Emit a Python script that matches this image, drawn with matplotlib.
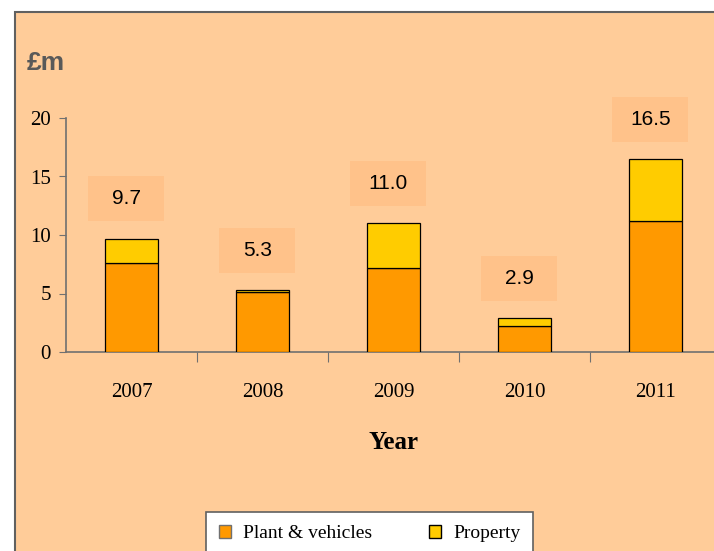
import matplotlib.pyplot as plt
from matplotlib.patches import Rectangle, Patch

years = ["2007", "2008", "2009", "2010", "2011"]
plant = [7.6, 5.1, 7.2, 2.2, 11.2]
prop = [2.1, 0.2, 3.8, 0.7, 5.3]
totals = [9.7, 5.3, 11.0, 2.9, 16.5]

fig = plt.figure(figsize=(7.14, 5.51), dpi=100)
fig.patch.set_facecolor("white")
# orange panel with a thin grey frame
fig.patches.append(Rectangle((15 / 714, -0.01), 1, 1.01 - 12 / 551, transform=fig.transFigure,
                             facecolor="#FFCC99", edgecolor="#606060", linewidth=1.5, zorder=-10))

ax = fig.add_axes([66 / 714, 199 / 551, 655 / 714, 234 / 551])
ax.patch.set_alpha(0)

x = range(len(years))
ax.bar(x, plant, width=0.4, color="#FF9900", edgecolor="black", linewidth=0.9, zorder=3)
ax.bar(x, prop, width=0.4, bottom=plant, color="#FFCC00", edgecolor="black", linewidth=0.9, zorder=3)

# value boxes above bars
for i, t in enumerate(totals):
    yc = t + 3.4
    ax.add_patch(Rectangle((i - 0.33, yc - 1.92), 0.58, 3.85, facecolor="#FFC28A",
                           edgecolor="none", zorder=2, clip_on=False))
    ax.text(i - 0.04, yc, f"{t:.1f}", ha="center", va="center", fontsize=15,
            family="Liberation Sans", zorder=4)

ax.set_xlim(-0.5, 4.5)
ax.set_ylim(0, 20)
ax.set_yticks([0, 5, 10, 15, 20])
ax.set_xticks([0.5, 1.5, 2.5, 3.5])
ax.set_xticklabels([])
ax.set_xticks(list(x), years, minor=True)
ax.tick_params(axis="x", which="major", length=7, color="#707070")
ax.tick_params(axis="x", which="minor", length=0, pad=22, labelsize=15)
ax.tick_params(axis="y", length=5, color="#707070", labelsize=15, pad=6)
for lab in ax.get_xticklabels(minor=True) + ax.get_yticklabels():
    lab.set_family("Liberation Serif")

for s in ["top", "right"]:
    ax.spines[s].set_visible(False)
for s in ["left", "bottom"]:
    ax.spines[s].set_color("#707070")
    ax.spines[s].set_linewidth(1.2)

ax.set_xlabel("Year", family="Liberation Serif", fontsize=18, fontweight="bold", labelpad=21)
fig.text(46 / 714, 1 - 63 / 551, "£m", family="Liberation Sans", fontsize=19,
         fontweight="bold", color="#595959", ha="center", va="center")

handles = [Patch(facecolor="#FF9900", edgecolor="#707070", label="Plant & vehicles"),
           Patch(facecolor="#FFCC00", edgecolor="black", label="Property")]
leg = fig.legend(handles=handles, loc="upper center", bbox_to_anchor=(369.5 / 714, 1 - 512 / 551),
                 ncol=2, frameon=True, fancybox=False, handlelength=0.65, handleheight=0.65,
                 handletextpad=0.6, columnspacing=2.9, borderpad=0.65, borderaxespad=0,
                 framealpha=1, facecolor="white",
                 prop={"family": "Liberation Serif", "size": 14})
leg.get_frame().set_edgecolor("#606060")
leg.get_frame().set_linewidth(1.2)

fig.savefig("out.png", dpi=100)
